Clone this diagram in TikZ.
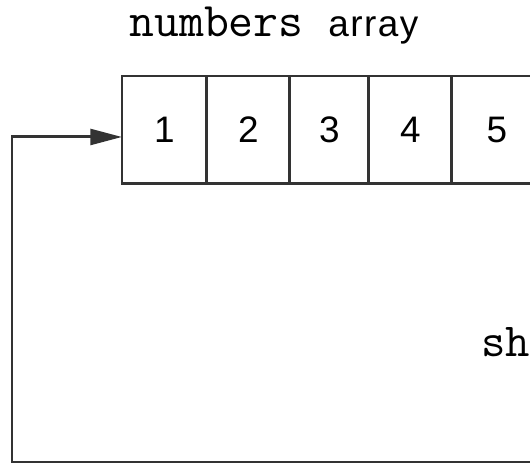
\documentclass[tikz,border=0pt]{standalone}
\usepackage{fontspec}
\newfontfamily\labelfont[LetterSpace=4]{Liberation Sans}
\newfontfamily\digitfont{Liberation Sans}
\usetikzlibrary{positioning,arrows.meta}

\begin{document}
\begin{tikzpicture}[x=0.02cm, y=-0.02cm,
        cell/.style={draw=black!80, line width=1.7pt, outer sep=0pt, inner sep=0pt,
            minimum height=2.16cm, font=\digitfont\fontsize{21}{25}\selectfont},
        loop/.style={draw=black!80, line width=1.7pt,
            -{Triangle[length=18pt, width=9pt]}}]
    \useasboundingbox (0, 0) rectangle (530, 465);
    \clip (0, 0) rectangle (530, 465);
    \node[anchor=base west, inner sep=0pt] (title) at (129, 37)
        {\ttfamily\fontsize{27.5}{32}\selectfont numbers {\labelfont\fontsize{21}{25}\selectfont array}};
    \node[cell, minimum width=1.70cm, anchor=north west] (c1) at (122, 76) {1};
    \node[cell, minimum width=1.66cm, right=0pt of c1] (c2) {2};
    \node[cell, minimum width=1.58cm, right=0pt of c2] (c3) {3};
    \node[cell, minimum width=1.66cm, right=0pt of c3] (c4) {4};
    \node[cell, minimum width=1.80cm, right=0pt of c4] (c5) {5};
    \node[anchor=base west, inner sep=0pt] (shift) at (481, 357)
        {\ttfamily\fontsize{27}{32}\selectfont sh};
    \coordinate (loopend) at (530, 462);
    \coordinate (corner) at (12, 462);
    \draw[loop] (loopend) -- (corner) |- ([yshift=-0.14cm]c1.west);
\end{tikzpicture}
\end{document}
